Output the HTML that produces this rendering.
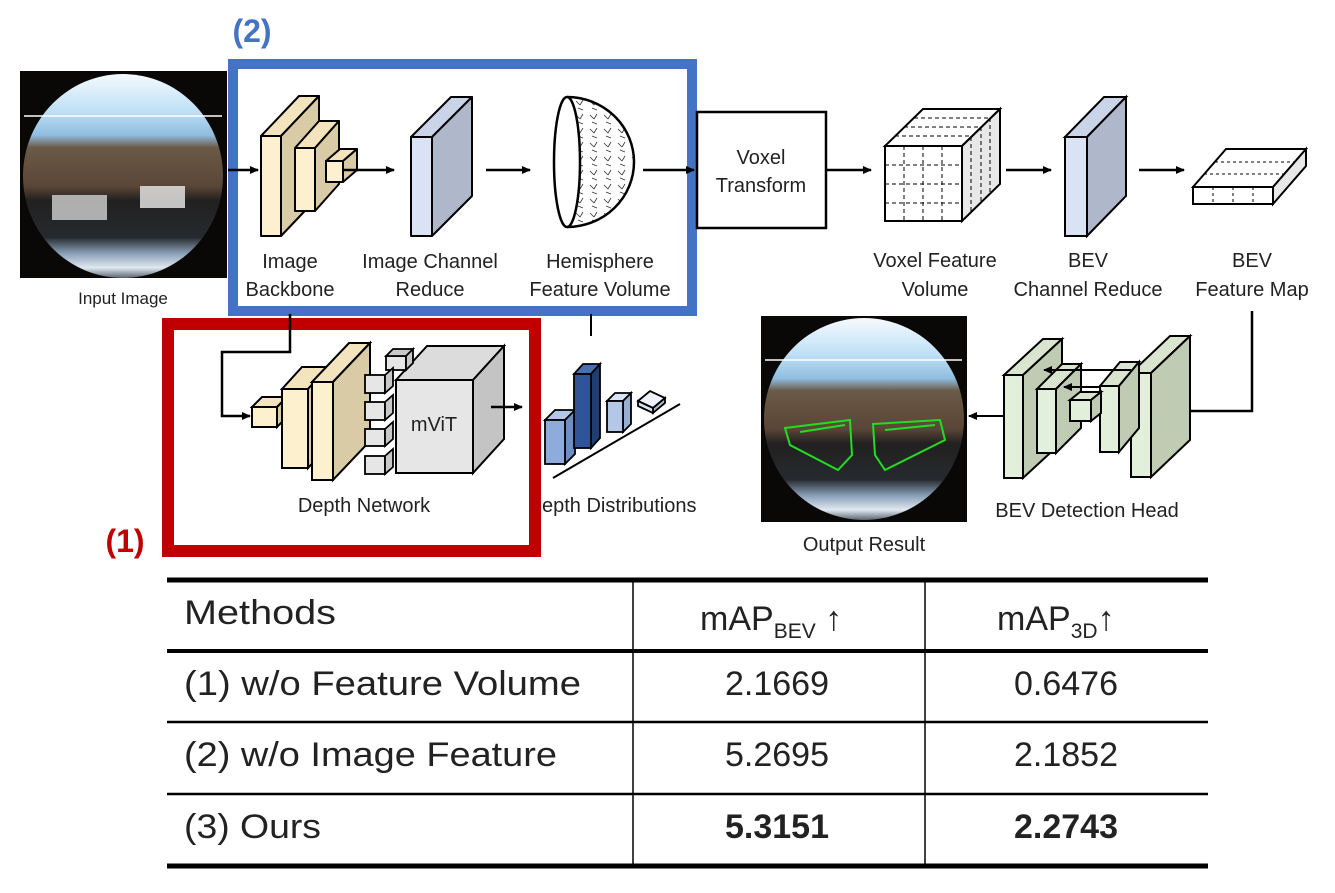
<!DOCTYPE html>
<html><head><meta charset="utf-8"><style>
html,body{margin:0;padding:0;background:#fff;}
svg{display:block;}
text{font-family:"Liberation Sans",sans-serif;fill:#222;}
</style></head><body>
<svg width="1335" height="893" viewBox="0 0 1335 893" xmlns="http://www.w3.org/2000/svg">
<defs>
<marker id="ar" markerWidth="10" markerHeight="10" refX="8" refY="5" orient="auto" markerUnits="userSpaceOnUse"><path d="M0,1 L9,5 L0,9 z" fill="#000"/></marker>
<linearGradient id="fish" x1="0" y1="0" x2="0" y2="1">
<stop offset="0" stop-color="#f4fafe"/><stop offset="0.18" stop-color="#bfe0f6"/><stop offset="0.3" stop-color="#8fbde0"/><stop offset="0.36" stop-color="#6b5a48"/><stop offset="0.55" stop-color="#5a4636"/><stop offset="0.62" stop-color="#222020"/><stop offset="0.8" stop-color="#262a2e"/><stop offset="0.88" stop-color="#8aa0b8"/><stop offset="0.95" stop-color="#dfe8f0"/><stop offset="1" stop-color="#5a6470"/>
</linearGradient>
<pattern id="dash" width="14" height="14" patternUnits="userSpaceOnUse"><path d="M2,3 l4,4 M9,2 l-3,5 M4,10 l5,2" stroke="#333" stroke-width="0.8" fill="none"/></pattern>
</defs>

<!-- Input image -->
<rect x="20" y="71" width="207" height="207" fill="#0a0707"/>
<ellipse cx="123" cy="176" rx="100" ry="102" fill="url(#fish)"/>
<rect x="52" y="195" width="55" height="25" fill="#c8c8c8" opacity="0.85"/>
<rect x="140" y="186" width="45" height="22" fill="#e0e0e0" opacity="0.85"/>
<line x1="24" y1="116" x2="222" y2="116" stroke="#fff" stroke-width="1.5"/>
<text x="123" y="304" font-size="17" text-anchor="middle">Input Image</text>

<!-- Blue box -->
<rect x="233" y="64" width="459" height="247" fill="none" stroke="#4472C4" stroke-width="10"/>
<text x="252" y="42" font-size="32" font-weight="bold" text-anchor="middle" style="fill:#4472C4">(2)</text>

<!-- Voxel transform -->
<rect x="697" y="112" width="129" height="116" fill="#fff" stroke="#000" stroke-width="2.5"/>

<!-- Image backbone -->
<g stroke="#000" stroke-width="2" stroke-linejoin="round">
<path d="M261,136 L299,96 L319,96 L281,136 z" fill="#f3e4bd"/>
<path d="M281,136 L319,96 L319,196 L281,236 z" fill="#d9cba6"/>
<rect x="261" y="136" width="20" height="100" fill="#fdf0cf"/>
<path d="M295,148 L319,121 L339,121 L315,148 z" fill="#f3e4bd"/>
<path d="M315,148 L339,121 L339,184 L315,211 z" fill="#d9cba6"/>
<rect x="295" y="148" width="20" height="63" fill="#fdf0cf"/>
<path d="M326,161 L340,149 L357,149 L343,161 z" fill="#f3e4bd"/>
<path d="M343,161 L357,149 L357,170 L343,182 z" fill="#d9cba6"/>
<rect x="326" y="161" width="17" height="21" fill="#fdf0cf"/>
<path d="M411,137 L451,97 L472,97 L432,137 z" fill="#c9d4e8"/>
<path d="M432,137 L472,97 L472,196 L432,236 z" fill="#aeb8ca"/>
<rect x="411" y="137" width="21" height="99" fill="#dae3f3"/>
</g>
<path d="M567,97 A67,65 0 0 1 567,227" fill="url(#dash)" stroke="#000" stroke-width="2.5"/>
<ellipse cx="567" cy="162" rx="13" ry="65" fill="#fff" stroke="#000" stroke-width="2.5"/>
<g stroke="#000" stroke-width="2.5" marker-end="url(#ar)">
<line x1="228" y1="170" x2="258" y2="170"/>
<line x1="343" y1="170" x2="394" y2="170"/>
<line x1="486" y1="170" x2="530" y2="170"/>
<line x1="643" y1="170" x2="694" y2="170"/>
<line x1="826" y1="170" x2="871" y2="170"/>
<line x1="1006" y1="170" x2="1051" y2="170"/>
<line x1="1139" y1="170" x2="1184" y2="170"/>
</g>
<g font-size="20" text-anchor="middle">
<text x="290" y="268">Image</text><text x="290" y="296">Backbone</text>
<text x="430" y="268">Image Channel</text><text x="430" y="296">Reduce</text>
<text x="600" y="268">Hemisphere</text><text x="600" y="296">Feature Volume</text>
<text x="761" y="164">Voxel</text><text x="761" y="192">Transform</text>
<text x="935" y="267">Voxel Feature</text><text x="935" y="296">Volume</text>
<text x="1088" y="267">BEV</text><text x="1088" y="296">Channel Reduce</text>
<text x="1252" y="267">BEV</text><text x="1252" y="296">Feature Map</text>
<text x="364" y="512">Depth Network</text>
<text x="612" y="512">Depth Distributions</text>
<text x="1087" y="517">BEV Detection Head</text>
<text x="864" y="551">Output Result</text>
</g>

<!-- Voxel cube -->
<g stroke="#000" stroke-width="2">
<path d="M885,146 L923,109 L1000,109 L962,146 z" fill="#fff"/>
<path d="M962,146 L1000,109 L1000,184 L962,221 z" fill="#e8e8e8"/>
<rect x="885" y="146" width="77" height="75" fill="#fff"/>
</g>
<g stroke="#000" stroke-width="1" stroke-dasharray="4,3" fill="none">
<line x1="904" y1="146" x2="904" y2="221"/><line x1="923" y1="146" x2="923" y2="221"/><line x1="942" y1="146" x2="942" y2="221"/>
<line x1="885" y1="165" x2="962" y2="165"/><line x1="885" y1="184" x2="962" y2="184"/><line x1="885" y1="203" x2="962" y2="203"/>
<line x1="895" y1="136" x2="972" y2="136"/><line x1="904" y1="127" x2="981" y2="127"/><line x1="914" y1="118" x2="991" y2="118"/>
<line x1="971" y1="137" x2="971" y2="212"/><line x1="981" y1="127" x2="981" y2="202"/><line x1="990" y1="118" x2="990" y2="193"/>
</g>

<g stroke="#000" stroke-width="2">
<path d="M1065,137 L1104,97 L1126,97 L1087,137 z" fill="#c9d4e8"/>
<path d="M1087,137 L1126,97 L1126,196 L1087,236 z" fill="#aeb8ca"/>
<rect x="1065" y="137" width="22" height="99" fill="#dae3f3"/>
<path d="M1193,187 L1226,149 L1306,149 L1273,187 z" fill="#fff"/>
<path d="M1273,187 L1306,149 L1306,166 L1273,204 z" fill="#e8e8e8"/>
<rect x="1193" y="187" width="80" height="17" fill="#fff"/>
</g>
<g stroke="#000" stroke-width="1" stroke-dasharray="3,3">
<line x1="1213" y1="187" x2="1213" y2="204"/><line x1="1233" y1="187" x2="1233" y2="204"/><line x1="1253" y1="187" x2="1253" y2="204"/>
<line x1="1204" y1="174" x2="1284" y2="174"/><line x1="1215" y1="162" x2="1295" y2="162"/>
</g>

<polyline points="1252,311 1252,411 1175,411" fill="none" stroke="#000" stroke-width="2.5" marker-end="url(#ar)"/>

<!-- BEV detection head -->
<g stroke="#000" stroke-width="2">
<path d="M1131,373 L1170,336 L1190,336 L1151,373 z" fill="#d9e5cf"/>
<path d="M1151,373 L1190,336 L1190,440 L1151,477 z" fill="#bfcbb3"/>
<rect x="1131" y="373" width="20" height="104" fill="#e2efda"/>
<path d="M1100,386 L1120,362 L1139,362 L1119,386 z" fill="#d9e5cf"/>
<path d="M1119,386 L1139,362 L1139,428 L1119,452 z" fill="#bfcbb3"/>
<rect x="1100" y="386" width="19" height="66" fill="#e2efda"/>
<path d="M1004,375 L1043,339 L1062,339 L1023,375 z" fill="#d9e5cf"/>
<path d="M1023,375 L1062,339 L1062,442 L1023,478 z" fill="#bfcbb3"/>
<rect x="1004" y="375" width="19" height="103" fill="#e2efda"/>
<path d="M1037,389 L1062,364 L1081,364 L1056,389 z" fill="#d9e5cf"/>
<path d="M1056,389 L1081,364 L1081,428 L1056,453 z" fill="#bfcbb3"/>
<rect x="1037" y="389" width="19" height="64" fill="#e2efda"/>
<path d="M1070,400 L1080,392 L1101,392 L1091,400 z" fill="#d9e5cf"/>
<path d="M1091,400 L1101,392 L1101,413 L1091,421 z" fill="#bfcbb3"/>
<rect x="1070" y="400" width="21" height="21" fill="#e2efda"/>
</g>
<g stroke="#000" stroke-width="2" marker-end="url(#ar)">
<line x1="1131" y1="370" x2="1044" y2="370"/>
<line x1="1100" y1="387" x2="1064" y2="387"/>
<line x1="1004" y1="416" x2="969" y2="416"/>
</g>

<!-- Output image -->
<rect x="761" y="316" width="206" height="206" fill="#0a0707"/>
<ellipse cx="864" cy="419" rx="100" ry="101" fill="url(#fish)"/>
<line x1="765" y1="360" x2="962" y2="360" stroke="#fff" stroke-width="1.5"/>
<g stroke="#22dd22" stroke-width="2" fill="none">
<path d="M785,428 L850,420 L852,455 L838,470 L790,445 z M800,432 L845,425"/>
<path d="M873,424 L940,420 L945,440 L885,470 L875,455 z M885,430 L935,425"/>
</g>

<!-- Red box -->
<rect x="168" y="324" width="367" height="227" fill="none" stroke="#C00000" stroke-width="12"/>
<text x="125" y="552" font-size="32" font-weight="bold" text-anchor="middle" style="fill:#C00000">(1)</text>

<!-- Depth network -->
<polyline points="290,314 290,352 222,352 222,416 250,416" fill="none" stroke="#000" stroke-width="2.5" marker-end="url(#ar)"/>
<g stroke="#000" stroke-width="2">
<path d="M252,407 L262,397 L287,397 L277,407 z" fill="#f3e4bd"/>
<path d="M277,407 L287,397 L287,417 L277,427 z" fill="#d9cba6"/>
<rect x="252" y="407" width="25" height="20" fill="#fdf0cf"/>
<path d="M282,389 L302,367 L328,367 L308,389 z" fill="#f3e4bd"/>
<path d="M308,389 L328,367 L328,446 L308,468 z" fill="#d9cba6"/>
<rect x="282" y="389" width="26" height="79" fill="#fdf0cf"/>
<path d="M312,382 L349,343 L370,343 L333,382 z" fill="#f3e4bd"/>
<path d="M333,382 L370,343 L370,441 L333,480 z" fill="#d9cba6"/>
<rect x="312" y="382" width="21" height="98" fill="#fdf0cf"/>
<path d="M396,380 L427,346 L504,346 L473,380 z" fill="#dcdcdc"/>
<path d="M473,380 L504,346 L504,439 L473,473 z" fill="#c4c4c4"/>
<rect x="396" y="380" width="77" height="93" fill="#e6e6e6"/>
</g>
<g stroke="#000" stroke-width="1.8" fill="#e6e6e6">
<rect x="386" y="356" width="20" height="14"/><path d="M386,356 l7,-7 h20 l-7,7 z M406,356 l7,-7 v14 l-7,7z" fill="#c8c8c8"/>
<rect x="365" y="375" width="20" height="18"/><path d="M385,375 l8,-7 v18 l-8,7z" fill="#c8c8c8"/>
<rect x="365" y="402" width="20" height="18"/><path d="M385,402 l8,-7 v18 l-8,7z" fill="#c8c8c8"/>
<rect x="365" y="429" width="20" height="17"/><path d="M385,429 l8,-7 v17 l-8,7z" fill="#c8c8c8"/>
<rect x="365" y="456" width="20" height="18"/><path d="M385,456 l8,-7 v18 l-8,7z" fill="#c8c8c8"/>
</g>
<text x="434" y="431" font-size="20" text-anchor="middle">mViT</text>
<line x1="491" y1="407" x2="522" y2="407" stroke="#000" stroke-width="2.5" marker-end="url(#ar)"/>

<!-- Depth distributions -->
<line x1="591" y1="314" x2="591" y2="336" stroke="#000" stroke-width="2"/>
<line x1="553" y1="478" x2="680" y2="404" stroke="#000" stroke-width="2"/>
<g stroke="#000" stroke-width="1.8">
<path d="M545,420 L555,410 L575,410 L565,420 z" fill="#b4c7e7"/><path d="M565,420 L575,410 L575,454 L565,464 z" fill="#6f8fc4"/><rect x="545" y="420" width="20" height="44" fill="#8faadc"/>
<path d="M574,374 L583,364 L600,364 L591,374 z" fill="#4a6fb0"/><path d="M591,374 L600,364 L600,438 L591,448 z" fill="#1f3d73"/><rect x="574" y="374" width="17" height="74" fill="#2f5597"/>
<path d="M607,401 L615,393 L631,393 L623,401 z" fill="#dae3f3"/><path d="M623,401 L631,393 L631,424 L623,432 z" fill="#9aaed0"/><rect x="607" y="401" width="16" height="31" fill="#b4c7e7"/>
<path d="M638,401 L650,391 L665,398 L653,408 z" fill="#eef2fa"/><path d="M653,408 L665,398 L665,403 L653,413 z" fill="#b4c0d8"/><path d="M638,401 L653,408 L653,413 L638,406z" fill="#dae3f3"/>
</g>

<!-- Table -->
<g stroke="#000">
<line x1="167" y1="580" x2="1208" y2="580" stroke-width="5"/>
<line x1="167" y1="651" x2="1208" y2="651" stroke-width="4"/>
<line x1="167" y1="722" x2="1208" y2="722" stroke-width="2.5"/>
<line x1="167" y1="794" x2="1208" y2="794" stroke-width="2.5"/>
<line x1="167" y1="866" x2="1208" y2="866" stroke-width="5"/>
<line x1="633" y1="580" x2="633" y2="866" stroke-width="1.5"/>
<line x1="925" y1="580" x2="925" y2="866" stroke-width="1.5"/>
</g>
<g font-size="34">
<text x="184" y="624" textLength="152" lengthAdjust="spacingAndGlyphs">Methods</text>
<text x="184" y="695" textLength="397" lengthAdjust="spacingAndGlyphs">(1) w/o Feature Volume</text>
<text x="184" y="766" textLength="373" lengthAdjust="spacingAndGlyphs">(2) w/o Image Feature</text>
<text x="184" y="838" textLength="137" lengthAdjust="spacingAndGlyphs">(3) Ours</text>
<text x="700" y="630">mAP<tspan font-size="21" dy="8">BEV</tspan><tspan dy="-8"> ↑</tspan></text>
<text x="997" y="630">mAP<tspan font-size="21" dy="8">3D</tspan><tspan dy="-8">↑</tspan></text>
<g text-anchor="middle">
<text x="777" y="695">2.1669</text><text x="1066" y="695">0.6476</text>
<text x="777" y="766">5.2695</text><text x="1066" y="766">2.1852</text>
<text x="777" y="838" font-weight="bold">5.3151</text><text x="1066" y="838" font-weight="bold">2.2743</text>
</g>
</g>
</svg>
</body></html>
